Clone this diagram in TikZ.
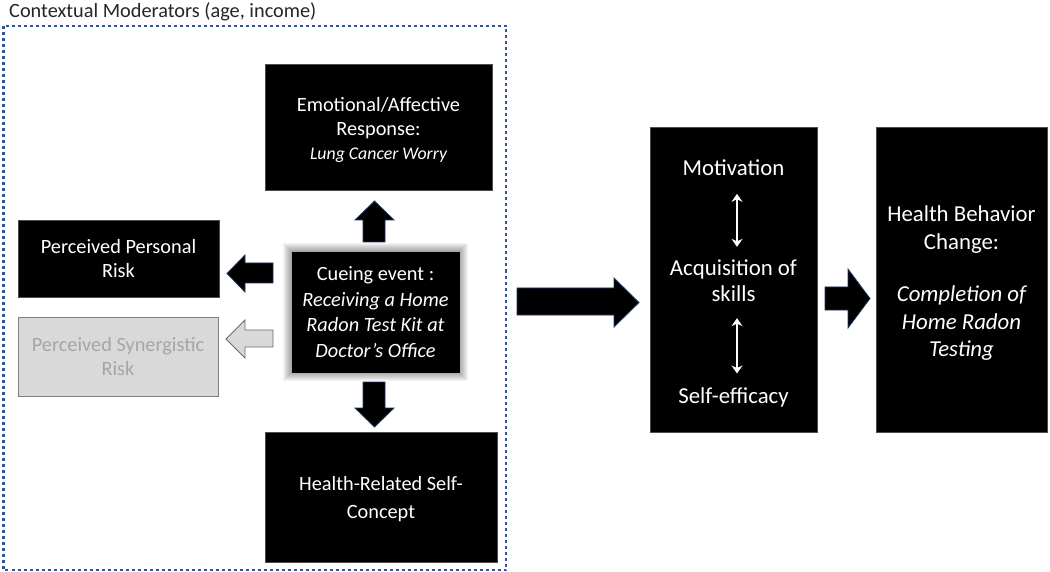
\documentclass[tikz,border=0pt]{standalone}
\usepackage{fontspec}
\setmainfont{Carlito}
\usetikzlibrary{arrows.meta}
\definecolor{frameblue}{HTML}{2F5597}
\definecolor{arrowedge}{HTML}{203864}
\definecolor{lightgr}{HTML}{D9D9D9}
\definecolor{midgr}{HTML}{A6A6A6}
\definecolor{edgegr}{HTML}{7F7F7F}
\begin{document}
\begin{tikzpicture}[x=1pt,y=-1pt,
  blk/.style={draw=black!70, line width=0.8pt, fill=black, text=white, align=center, inner sep=0pt,
    font=\fontsize{20.3}{24}\selectfont},
  graybox/.style={draw=edgegr, line width=0.8pt, fill=lightgr, text=midgr, align=center, inner sep=0pt,
    font=\fontsize{20.3}{24}\selectfont},
  bigtxt/.style={text=white, align=center, inner sep=0pt, font=\fontsize{22.8}{26}\selectfont},
  blockarrow/.style={fill=black, draw=arrowedge, line width=0.8pt, line join=miter},
  grayarrow/.style={fill=lightgr, draw=edgegr!70!arrowedge, line width=0.8pt, line join=miter},
  dbl/.style={draw=white, line width=2.6pt, {Stealth[length=8pt,width=11pt]}-{Stealth[length=8pt,width=11pt]}},
  frame/.style={draw=frameblue, line width=2.8pt, dash pattern=on 3pt off 3pt}
]
\useasboundingbox (0,0) rectangle (1050,572);
\fill[white] (0,0) rectangle (1050,572);

% contextual frame and title
\draw[frame] (3.5,26) rectangle (506,570);
\node[anchor=base west, inner sep=0pt, font=\fontsize{20.3}{24}\selectfont, text=black!85] (title) at (9,18) {Contextual Moderators (age, income)};

% emotional box
\node[blk, minimum width=227pt, minimum height=126pt] (emo) at (378.5,127) {};
\node[text=white, align=center, inner sep=0pt, font=\fontsize{20.3}{24}\selectfont] (emot) at (378.5,129.5)
  {Emotional/Affective\\Response:\\{\fontsize{17.8}{24}\selectfont\itshape Lung Cancer Worry}};

% perceived risks
\node[blk, minimum width=201pt, minimum height=77pt] (ppr) at (118.5,258.5) {Perceived Personal\\Risk};
\node[graybox, minimum width=200pt, minimum height=79pt] (psr) at (118,356.5) {Perceived Synergistic\\Risk};

% cueing event with glow
\foreach \g in {1,...,9}{
  \fill[black, opacity=0.045] (292-\g,252-\g) rectangle (459+\g,372+\g);
}
\node[blk, draw=black, minimum width=167pt, minimum height=120pt, font=\fontsize{20.3}{25.5}\selectfont] (cue) at (375.5,312)
  {Cueing event :\\\itshape Receiving a Home\\\itshape Radon Test Kit at\\\itshape Doctor’s Office};

% self-concept
\node[blk, minimum width=232pt, minimum height=130pt] (hsc) at (381,497) {};
\node[text=white, align=center, inner sep=0pt, font=\fontsize{20.3}{28}\selectfont] (hsct) at (381,499.5) {Health-Related Self-\\Concept};

% middle box
\node[blk, minimum width=167pt, minimum height=305pt] (mid) at (733.5,279.5) {};
\node[bigtxt, anchor=base] (mot) at (733.5,175.5) {Motivation};
\node[bigtxt] (acq) at (733.5,281) {Acquisition of\\skills};
\node[bigtxt, anchor=base] (sef) at (733.5,403.5) {Self-efficacy};
\draw[dbl, shorten <=18pt, shorten >=13pt] ([xshift=3.5pt]mot.south) -- ([xshift=3.5pt]acq.north);
\draw[dbl, shorten <=16pt, shorten >=14pt] ([xshift=3.5pt]acq.south) -- ([xshift=3.5pt]sef.north);

% right box
\node[blk, minimum width=171pt, minimum height=305pt] (hbc) at (961.5,279.5) {};
\node[bigtxt, font=\fontsize{22.8}{27.5}\selectfont] (hbct) at (961.5,283.5)
  {Health Behavior\\Change:\\[25pt]\itshape Completion of\\\itshape Home Radon\\\itshape Testing};

% block arrows around cueing event
\draw[blockarrow] (363,242) -- (363,220) -- (355,220) -- (374.5,201) -- (394,220) -- (385,220) -- (385,242) -- cycle;
\draw[blockarrow] (363,382) -- (363,408) -- (355,408) -- (374.5,427) -- (394,408) -- (385,408) -- (385,382) -- cycle;
\draw[blockarrow] (273,263) -- (245,263) -- (245,255) -- (227,273.5) -- (245,292) -- (245,283) -- (273,283) -- cycle;
\draw[grayarrow] (273,330) -- (245,330) -- (245,320) -- (226,339) -- (245,358) -- (245,347) -- (273,347) -- cycle;

% arrows to the right
\draw[blockarrow] (517,288) -- (614,288) -- (614,278) -- (639,302.5) -- (614,327) -- (614,315) -- (517,315) -- cycle;
\draw[blockarrow] (825,287) -- (848,287) -- (848,269) -- (870,298.5) -- (848,328) -- (848,310) -- (825,310) -- cycle;
\end{tikzpicture}
\end{document}
